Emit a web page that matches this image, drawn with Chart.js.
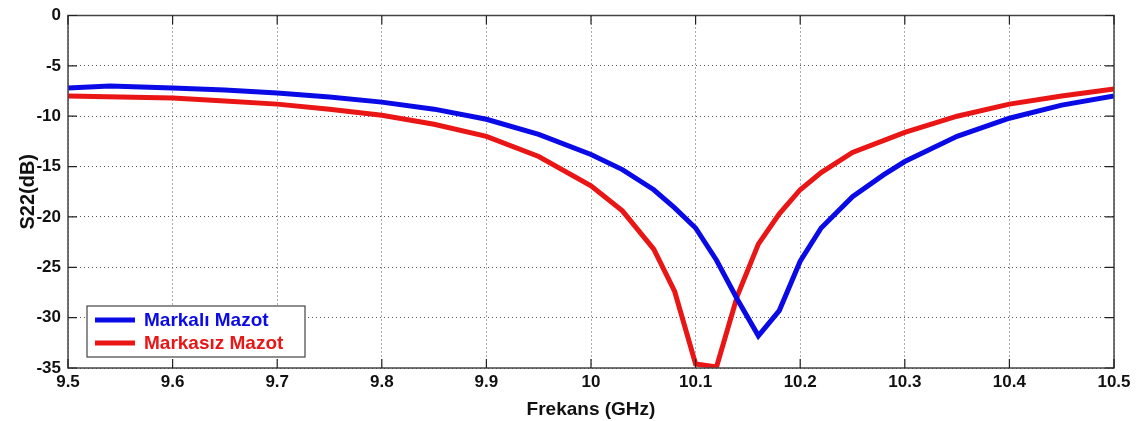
<!DOCTYPE html>
<html>
<head>
<meta charset="utf-8">
<script src="https://cdn.jsdelivr.net/npm/chart.js@4"></script>
<style>
    html, body { margin: 0; padding: 0; background: #fff; }
    #wrap { width: 1147px; height: 421px; position: relative; }
</style>
</head>
<body>
<div id="wrap"><canvas id="chart"></canvas></div>
<script>
// Frequency points (GHz) and S22 values (dB)
const blueFreq = [9.5, 9.54, 9.6, 9.65, 9.7, 9.75, 9.8, 9.85, 9.9, 9.95, 10.0, 10.03, 10.06, 10.08, 10.1, 10.12, 10.14, 10.16, 10.18, 10.2, 10.22, 10.25, 10.28, 10.3, 10.35, 10.4, 10.45, 10.5];
const blueS22 = [-7.2, -7.0, -7.2, -7.4, -7.7, -8.1, -8.6, -9.3, -10.3, -11.8, -13.8, -15.3, -17.3, -19.1, -21.1, -24.3, -28.2, -31.8, -29.3, -24.4, -21.1, -18.0, -15.8, -14.5, -12.0, -10.2, -8.9, -8.0];

const redFreq = [9.5, 9.55, 9.6, 9.65, 9.7, 9.75, 9.8, 9.85, 9.9, 9.95, 10.0, 10.03, 10.06, 10.08, 10.1, 10.12, 10.14, 10.16, 10.18, 10.2, 10.22, 10.25, 10.3, 10.35, 10.4, 10.45, 10.5];
const redS22 = [-8.0, -8.1, -8.2, -8.5, -8.8, -9.3, -9.9, -10.8, -12.0, -14.0, -16.9, -19.4, -23.2, -27.4, -34.6, -34.9, -27.8, -22.7, -19.7, -17.3, -15.6, -13.6, -11.6, -10.0, -8.8, -8.0, -7.3];

const xTicks = [9.5, 9.6, 9.7, 9.8, 9.9, 10, 10.1, 10.2, 10.3, 10.4, 10.5];
const yTicks = [0, -5, -10, -15, -20, -25, -30, -35];
const seriesNames = ['Markalı Mazot', 'Markasız Mazot'];
const seriesColors = ['#0a0ae6', '#ea1515'];

const toPoints = (xs, ys) => xs.map((x, i) => ({ x: x, y: ys[i] }));

// box, inward tick marks and in-plot legend (matlab style)
const framePlugin = {
    id: 'frame',
    afterDatasetsDraw(chart) {
        const { ctx, chartArea: a, scales } = chart;
        ctx.save();
        ctx.strokeStyle = '#444';
        ctx.lineWidth = 1.5;
        ctx.strokeRect(a.left, a.top, a.right - a.left, a.bottom - a.top);

        ctx.lineWidth = 1.2;
        ctx.strokeStyle = '#222';
        ctx.beginPath();
        xTicks.forEach(v => {
            const px = scales.x.getPixelForValue(v);
            ctx.moveTo(px, a.bottom); ctx.lineTo(px, a.bottom - 9);
            ctx.moveTo(px, a.top); ctx.lineTo(px, a.top + 9);
        });
        yTicks.forEach(v => {
            const py = scales.y.getPixelForValue(v);
            ctx.moveTo(a.left, py); ctx.lineTo(a.left + 9, py);
            ctx.moveTo(a.right, py); ctx.lineTo(a.right - 9, py);
        });
        ctx.stroke();

        // legend box
        const bx = a.left + 19, by = a.bottom - 62, bw = 218, bh = 51;
        ctx.fillStyle = '#fff';
        ctx.fillRect(bx, by, bw, bh);
        ctx.strokeStyle = '#444';
        ctx.lineWidth = 1.2;
        ctx.strokeRect(bx, by, bw, bh);
        ctx.font = 'bold 19px Arial, "Liberation Sans", sans-serif';
        ctx.textBaseline = 'middle';
        seriesNames.forEach((name, i) => {
            const ly = by + 14 + i * 23;
            ctx.strokeStyle = seriesColors[i];
            ctx.lineWidth = 5;
            ctx.beginPath();
            ctx.moveTo(bx + 8, ly); ctx.lineTo(bx + 48, ly);
            ctx.stroke();
            ctx.fillStyle = seriesColors[i];
            ctx.fillText(name, bx + 57, ly + 1);
        });
        ctx.restore();
    }
};

const tickFont = { family: 'Arial, "Liberation Sans", sans-serif', size: 17, weight: 'bold', lineHeight: 1 };

new Chart(document.getElementById('chart'), {
    type: 'line',
    data: {
        datasets: [
            {
                label: seriesNames[0],
                data: toPoints(blueFreq, blueS22),
                borderColor: seriesColors[0],
                borderWidth: 5,
                pointRadius: 0,
                tension: 0
            },
            {
                label: seriesNames[1],
                data: toPoints(redFreq, redS22),
                borderColor: seriesColors[1],
                borderWidth: 5,
                pointRadius: 0,
                tension: 0
            }
        ]
    },
    options: {
        responsive: true,
        maintainAspectRatio: false,
        animation: false,
        layout: { padding: { left: 0, right: 33, top: 13, bottom: 0 } },
        plugins: {
            legend: { display: false },
            tooltip: { enabled: false }
        },
        scales: {
            x: {
                type: 'linear',
                min: 9.5,
                max: 10.5,
                afterBuildTicks: (scale) => { scale.ticks = xTicks.map(v => ({ value: v })); },
                afterFit: (scale) => { scale.height = 53; },
                ticks: {
                    color: '#111',
                    font: tickFont,
                    padding: 6,
                    maxRotation: 0,
                    callback: (v) => String(v)
                },
                grid: { color: '#555', lineWidth: 1, drawTicks: false },
                border: { display: false, dash: [1, 3] },
                title: {
                    display: true,
                    text: 'Frekans (GHz)',
                    color: '#111',
                    font: { family: tickFont.family, size: 19, weight: 'bold' },
                    padding: { top: 0, bottom: 0 }
                }
            },
            y: {
                min: -35,
                max: 0,
                afterBuildTicks: (scale) => { scale.ticks = yTicks.map(v => ({ value: v })); },
                afterFit: (scale) => { scale.width = 68; },
                ticks: {
                    color: '#111',
                    font: tickFont,
                    padding: 7,
                    callback: (v) => String(v)
                },
                grid: { color: '#555', lineWidth: 1, drawTicks: false },
                border: { display: false, dash: [1, 3] },
                title: {
                    display: true,
                    text: 'S22(dB)',
                    color: '#111',
                    font: { family: tickFont.family, size: 20, weight: 'bold' },
                    padding: { top: 16, bottom: 0 }
                }
            }
        }
    },
    plugins: [framePlugin]
});
</script>
</body>
</html>
